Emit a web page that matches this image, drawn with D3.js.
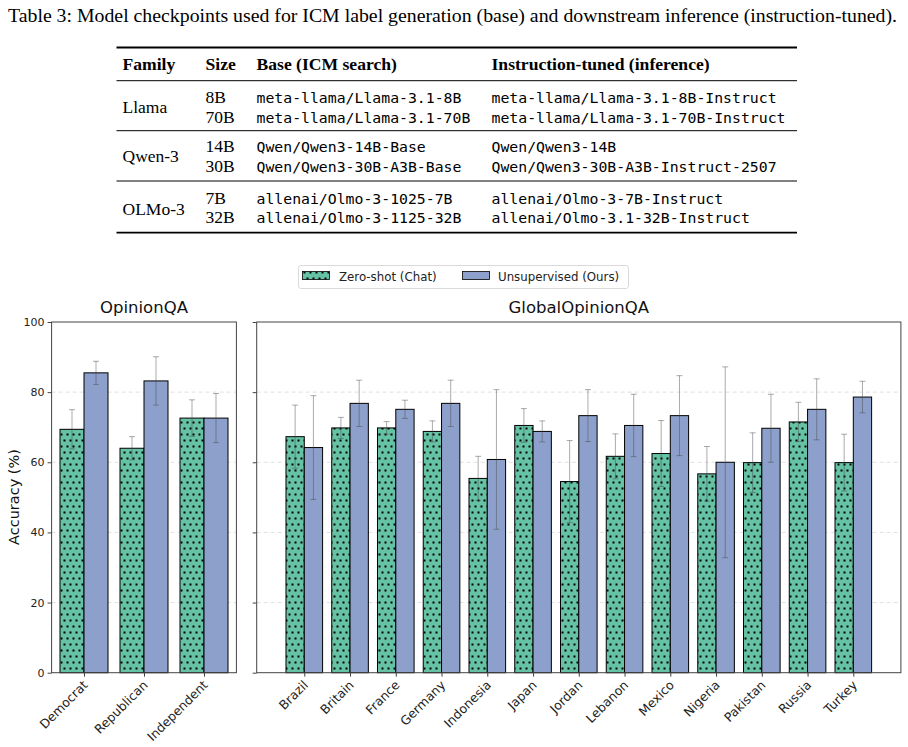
<!DOCTYPE html>
<html><head><meta charset="utf-8">
<script src="https://cdn.jsdelivr.net/npm/d3@7"></script>
<style>html,body{margin:0;padding:0;background:#fff;}svg{display:block;}</style>
</head><body>
<script>
// ---------- Table data ----------
const caption = "Table 3: Model checkpoints used for ICM label generation (base) and downstream inference (instruction-tuned).";
const tableHeaders = ["Family", "Size", "Base (ICM search)", "Instruction-tuned (inference)"];
const families = ["Llama", "Qwen-3", "OLMo-3"];
const sizes = [["8B", "70B"], ["14B", "30B"], ["7B", "32B"]];
const baseModels = [["meta-llama/Llama-3.1-8B", "meta-llama/Llama-3.1-70B"],
                    ["Qwen/Qwen3-14B-Base", "Qwen/Qwen3-30B-A3B-Base"],
                    ["allenai/Olmo-3-1025-7B", "allenai/Olmo-3-1125-32B"]];
const instructModels = [["meta-llama/Llama-3.1-8B-Instruct", "meta-llama/Llama-3.1-70B-Instruct"],
                        ["Qwen/Qwen3-14B", "Qwen/Qwen3-30B-A3B-Instruct-2507"],
                        ["allenai/Olmo-3-7B-Instruct", "allenai/Olmo-3.1-32B-Instruct"]];

// ---------- Chart data ----------
const seriesNames = ["Zero-shot (Chat)", "Unsupervised (Ours)"];
const groups1 = ["Democrat", "Republican", "Independent"];
const zeroShot1 = [69.4, 64.0, 72.6];
const zeroShotErr1 = [5.6, 3.3, 5.2];
const unsup1 = [85.5, 83.2, 72.6];
const unsupErr1 = [3.3, 6.9, 7.0];

const countries = ["Brazil", "Britain", "France", "Germany", "Indonesia", "Japan", "Jordan",
                   "Lebanon", "Mexico", "Nigeria", "Pakistan", "Russia", "Turkey"];
const zeroShot2 = [67.3, 69.8, 69.8, 68.8, 55.4, 70.5, 54.5, 61.7, 62.5, 56.7, 59.9, 71.5, 59.9];
const zeroShotErr2 = [9.0, 3.0, 1.8, 3.0, 6.3, 4.8, 11.7, 6.4, 9.4, 7.8, 8.5, 5.6, 8.1];
const unsup2 = [64.2, 76.8, 75.1, 76.8, 60.8, 68.8, 73.3, 70.5, 73.3, 60.0, 69.7, 75.1, 78.6];
const unsupErr2 = [14.8, 6.6, 2.6, 6.6, 19.9, 3.0, 7.4, 8.9, 11.4, 27.2, 9.7, 8.7, 4.5];
const yTicks = [0, 20, 40, 60, 80, 100];

// ---------- Styles ----------
const W = 908, H = 747;
const green = "#66c2a5", blue = "#8da0cb";
const sans = "'DejaVu Sans', sans-serif";
const serif = "'Liberation Serif', 'Times New Roman', serif";
const mono = "'DejaVu Sans Mono', monospace";

const svg = d3.select("body").append("svg").attr("width", W).attr("height", H);

// hatch pattern
const defs = svg.append("defs");
const pat = defs.append("pattern").attr("id", "dots").attr("patternUnits", "userSpaceOnUse")
  .attr("width", 6).attr("height", 12);
pat.append("rect").attr("width", 6).attr("height", 12).attr("fill", green);
[[1.5, 2.5], [4.5, 8.5]].forEach(([cx, cy]) =>
  pat.append("rect").attr("x", cx - 1).attr("y", cy - 1).attr("width", 2).attr("height", 2).attr("fill", "#000"));

// ---------- Table ----------
svg.append("text").attr("x", 8).attr("y", 22).attr("font-family", serif).attr("font-size", 19)
  .attr("textLength", 889).attr("lengthAdjust", "spacingAndGlyphs").attr("fill", "#000").text(caption);

const tL = 116.5, tR = 797;
const colX = [122.5, 205.5, 256.5, 491.5];
function rule(y, w) {
  svg.append("line").attr("x1", tL).attr("x2", tR).attr("y1", y).attr("y2", y)
    .attr("stroke", "#000").attr("stroke-width", w);
}
rule(47.5, 1.8);
rule(80.7, 1);
rule(130.7, 1);
rule(181, 1);
rule(232.7, 1.8);
tableHeaders.forEach((h, i) => svg.append("text").attr("x", colX[i]).attr("y", 70)
  .attr("font-family", serif).attr("font-weight", "bold").attr("font-size", 17.6).text(h));
const rowBase = [[103.3, 122.7], [152.3, 171.7], [204.3, 223.3]];
const famBase = [112.7, 162, 215];
families.forEach((f, g) => {
  svg.append("text").attr("x", colX[0]).attr("y", famBase[g]).attr("font-family", serif).attr("font-size", 17.5).text(f);
  for (let r = 0; r < 2; r++) {
    const y = rowBase[g][r];
    svg.append("text").attr("x", colX[1]).attr("y", y).attr("font-family", serif).attr("font-size", 17.5).text(sizes[g][r]);
    svg.append("text").attr("x", colX[2]).attr("y", y).attr("font-family", mono).attr("font-size", 14.8).text(baseModels[g][r]);
    svg.append("text").attr("x", colX[3]).attr("y", y).attr("font-family", mono).attr("font-size", 14.8).text(instructModels[g][r]);
  }
});

// ---------- Legend ----------
const leg = svg.append("g");
leg.append("rect").attr("x", 298.5).attr("y", 265.5).attr("width", 330).attr("height", 23).attr("rx", 2.5)
  .attr("fill", "#fff").attr("stroke", "#d0d0d0").attr("stroke-width", 0.8);
const legItems = [{x: 302.5, fill: "url(#dots)", tx: 339}, {x: 462.5, fill: blue, tx: 498}];
legItems.forEach((d, i) => {
  leg.append("rect").attr("x", d.x).attr("y", 271.5).attr("width", 27).attr("height", 8)
    .attr("fill", d.fill).attr("stroke", "#000").attr("stroke-width", 0.8);
  leg.append("text").attr("x", d.tx).attr("y", 280.8).attr("font-family", sans).attr("font-size", 11.8)
    .attr("fill", "#222").text(seriesNames[i]);
});

// ---------- Panels ----------
const yTop = 322, yBot = 672.7;
const y = d3.scaleLinear().domain([0, 100]).range([yBot, yTop]);

function panel(opts) {
  const {cats, zs, zsE, un, unE, x0, x1, title, showY} = opts;
  const n = cats.length;
  const span = n - 1 + 0.8, m = 0.05 * span;
  const x = d3.scaleLinear().domain([-0.4 - m, n - 1 + 0.4 + m]).range([x0, x1]);
  const g = svg.append("g");

  // grid
  g.selectAll(".grid").data(yTicks.filter(t => t > 0 && t < 100)).join("line")
    .attr("x1", x0).attr("x2", x1).attr("y1", d => y(d)).attr("y2", d => y(d))
    .attr("stroke", "#d9d9d9").attr("stroke-width", 0.8).attr("stroke-dasharray", "4,3");

  // bars
  const bw = x(0.4) - x(0);
  g.selectAll(".zs").data(zs).join("rect")
    .attr("x", (d, i) => x(i - 0.4)).attr("width", bw)
    .attr("y", d => y(d)).attr("height", d => y(0) - y(d))
    .attr("fill", "url(#dots)").attr("stroke", "#000").attr("stroke-width", 1);
  g.selectAll(".un").data(un).join("rect")
    .attr("x", (d, i) => x(i)).attr("width", bw)
    .attr("y", d => y(d)).attr("height", d => y(0) - y(d))
    .attr("fill", blue).attr("stroke", "#000").attr("stroke-width", 1);

  // error bars
  const errs = [];
  zs.forEach((v, i) => errs.push({cx: x(i - 0.2), v, e: zsE[i]}));
  un.forEach((v, i) => errs.push({cx: x(i + 0.2), v, e: unE[i]}));
  const eg = g.append("g").attr("stroke", "#444").attr("stroke-opacity", 0.45).attr("stroke-width", 1).attr("fill", "none");
  errs.forEach(d => {
    eg.append("line").attr("x1", d.cx).attr("x2", d.cx).attr("y1", y(d.v - d.e)).attr("y2", y(d.v + d.e));
    [d.v - d.e, d.v + d.e].forEach(t => eg.append("line").attr("x1", d.cx - 3).attr("x2", d.cx + 3)
      .attr("y1", y(t)).attr("y2", y(t)));
  });

  // axes
  const ya = d3.axisLeft(y).tickValues(yTicks).tickSize(4).tickPadding(3);
  if (!showY) ya.tickFormat("");
  const yg = g.append("g").attr("transform", `translate(${x0},0)`).call(ya);
  yg.select(".domain").remove();
  yg.selectAll("line").attr("stroke", "#444");
  yg.selectAll("text").attr("font-family", sans).attr("font-size", 11).attr("fill", "#222");

  const xa = d3.axisBottom(x).tickValues(d3.range(n)).tickFormat(i => cats[i]).tickSize(4).tickPadding(0);
  const xg = g.append("g").attr("transform", `translate(0,${yBot})`).call(xa);
  xg.select(".domain").remove();
  xg.selectAll("line").attr("stroke", "#444");
  xg.selectAll("text").attr("font-family", sans).attr("font-size", 12.5).attr("fill", "#222")
    .attr("text-anchor", "end")
    .attr("transform", "translate(1,10) rotate(-45)").attr("y", 0).attr("dy", "0.35em");

  // frame
  g.append("rect").attr("x", x0).attr("y", yTop).attr("width", x1 - x0).attr("height", yBot - yTop)
    .attr("fill", "none").attr("stroke", "#444").attr("stroke-width", 1);

  g.append("text").attr("x", (x0 + x1) / 2).attr("y", 313).attr("text-anchor", "middle")
    .attr("font-family", sans).attr("font-size", 16.5).attr("fill", "#111").text(title);
}

panel({cats: groups1, zs: zeroShot1, zsE: zeroShotErr1, un: unsup1, unE: unsupErr1,
       x0: 51.6, x1: 236.4, title: "OpinionQA", showY: true});
panel({cats: countries, zs: zeroShot2, zsE: zeroShotErr2, un: unsup2, unE: unsupErr2,
       x0: 256.7, x1: 900.9, title: "GlobalOpinionQA", showY: false});

svg.append("text").attr("transform", "translate(19,497) rotate(-90)").attr("text-anchor", "middle")
  .attr("font-family", sans).attr("font-size", 14.5).attr("fill", "#111").text("Accuracy (%)");
</script>
</body></html>
